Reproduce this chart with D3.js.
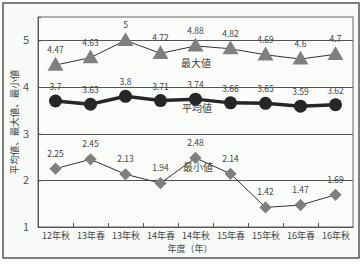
<!DOCTYPE html>
<html>
<head>
<meta charset="utf-8">
<script src="https://cdn.jsdelivr.net/npm/d3@7"></script>
<style>
  body { margin: 0; background: #fff; }
  text { font-family: "Noto Sans CJK JP", "Noto Sans", sans-serif; fill: #444; }
</style>
</head>
<body>
<div class="container"></div>
<script>
// chart data
var categories = ["12年秋", "13年春", "13年秋", "14年春", "14年秋", "15年春", "15年秋", "16年春", "16年秋"];
var maxValues = [4.47, 4.63, 5, 4.72, 4.88, 4.82, 4.69, 4.6, 4.7];
var avgValues = [3.7, 3.63, 3.8, 3.71, 3.74, 3.66, 3.65, 3.59, 3.62];
var minValues = [2.25, 2.45, 2.13, 1.94, 2.48, 2.14, 1.42, 1.47, 1.69];
var yTicks = [1, 2, 3, 4, 5];

var width = 363, height = 264;
var margin = {top: 17, right: 10, bottom: 37, left: 38};

var svg = d3.select('.container').append('svg')
  .attr('width', width).attr('height', height);

// background + outer frame
svg.append('rect').attr('x', 3).attr('y', 3).attr('width', 356).attr('height', 255)
  .attr('fill', '#f7faf7').attr('stroke', '#555').attr('stroke-width', 1.5);

var x = d3.scalePoint().domain(categories)
  .range([margin.left, width - margin.right]).padding(0.5);
var xBand = d3.scaleBand().domain(categories)
  .range([margin.left, width - margin.right]);
var y = d3.scaleLinear().domain([1, 5.5]).range([height - margin.bottom, margin.top]);

var plot = svg.append('g');
plot.append('rect')
  .attr('x', margin.left).attr('y', margin.top)
  .attr('width', width - margin.left - margin.right)
  .attr('height', height - margin.top - margin.bottom)
  .attr('fill', '#fbfdfb').attr('stroke', '#666').attr('stroke-width', 1);

// gridlines
plot.selectAll('.grid').data(yTicks.slice(1)).enter().append('line')
  .attr('x1', margin.left).attr('x2', width - margin.right)
  .attr('y1', function(d){ return Math.round(y(d)) + 0.5; })
  .attr('y2', function(d){ return Math.round(y(d)) + 0.5; })
  .attr('stroke', '#555').attr('stroke-width', 1);

// y axis
var yAxis = svg.append('g').attr('transform', 'translate(' + margin.left + ',0)')
  .call(d3.axisLeft(y).tickValues(yTicks).tickSize(-3).tickPadding(9).tickFormat(d3.format('d')));
yAxis.select('.domain').attr('stroke', '#555');
yAxis.selectAll('.tick line').attr('stroke', '#555');
yAxis.selectAll('text').style('font-size', '11px').style('fill', '#555');

// x axis with ticks between categories
var xAxis = svg.append('g').attr('transform', 'translate(0,' + (height - margin.bottom) + ')')
  .call(d3.axisBottom(x).tickSize(0).tickPadding(6));
xAxis.select('.domain').attr('stroke', '#555');
xAxis.selectAll('text').style('font-size', '9px').style('fill', '#444');
svg.selectAll('.xtick').data(categories.slice(1)).enter().append('line')
  .attr('x1', function(d){ return Math.round(xBand(d)) + 0.5; })
  .attr('x2', function(d){ return Math.round(xBand(d)) + 0.5; })
  .attr('y1', height - margin.bottom).attr('y2', height - margin.bottom - 4)
  .attr('stroke', '#555');

// axis titles
svg.append('text').attr('x', 190).attr('y', 252).attr('text-anchor', 'middle')
  .style('font-size', '9px').text('年度（年）');
svg.append('text').attr('transform', 'translate(18,122) rotate(-90)')
  .attr('text-anchor', 'middle').style('font-size', '9.5px').text('平均値、最大値、最小値');

var line = d3.line()
  .x(function(d, i){ return x(categories[i]); })
  .y(function(d){ return y(d); });

function drawSeries(values, lineWidth, color) {
  plot.append('path').datum(values).attr('d', line)
    .attr('fill', 'none').attr('stroke', color).attr('stroke-width', lineWidth);
}
drawSeries(maxValues, 1, '#333');
drawSeries(avgValues, 3.5, '#262626');
drawSeries(minValues, 1, '#333');

var tri = d3.symbol().type(d3.symbolTriangle).size(110);
var dia = d3.symbol().type(d3.symbolSquare).size(75);

plot.selectAll('.maxpt').data(maxValues).enter().append('path')
  .attr('d', tri)
  .attr('transform', function(d, i){ return 'translate(' + x(categories[i]) + ',' + (y(d) + 1) + ')'; })
  .attr('fill', '#7f7f7f');
plot.selectAll('.avgpt').data(avgValues).enter().append('circle')
  .attr('cx', function(d, i){ return x(categories[i]); })
  .attr('cy', function(d){ return y(d); })
  .attr('r', 6.5).attr('fill', '#262626');
plot.selectAll('.minpt').data(minValues).enter().append('path')
  .attr('d', dia)
  .attr('transform', function(d, i){ return 'translate(' + x(categories[i]) + ',' + y(d) + ') rotate(45)'; })
  .attr('fill', '#7f7f7f');

// data labels
function labels(values, dy) {
  plot.selectAll(null).data(values).enter().append('text')
    .attr('x', function(d, i){ return x(categories[i]); })
    .attr('y', function(d){ return y(d) + dy; })
    .attr('text-anchor', 'middle')
    .style('font-size', '8.5px').style('fill', '#444')
    .text(function(d){ return d; });
}
labels(maxValues, -12);
labels(avgValues, -11);
labels(minValues, -12);

// series names
svg.append('text').attr('x', 196).attr('y', 67).attr('text-anchor', 'middle')
  .style('font-size', '10px').text('最大値');
svg.append('text').attr('x', 197).attr('y', 112).attr('text-anchor', 'middle')
  .style('font-size', '10px').text('平均値');
svg.append('text').attr('x', 198).attr('y', 171).attr('text-anchor', 'middle')
  .style('font-size', '10px').text('最小値');
</script>
</body>
</html>
